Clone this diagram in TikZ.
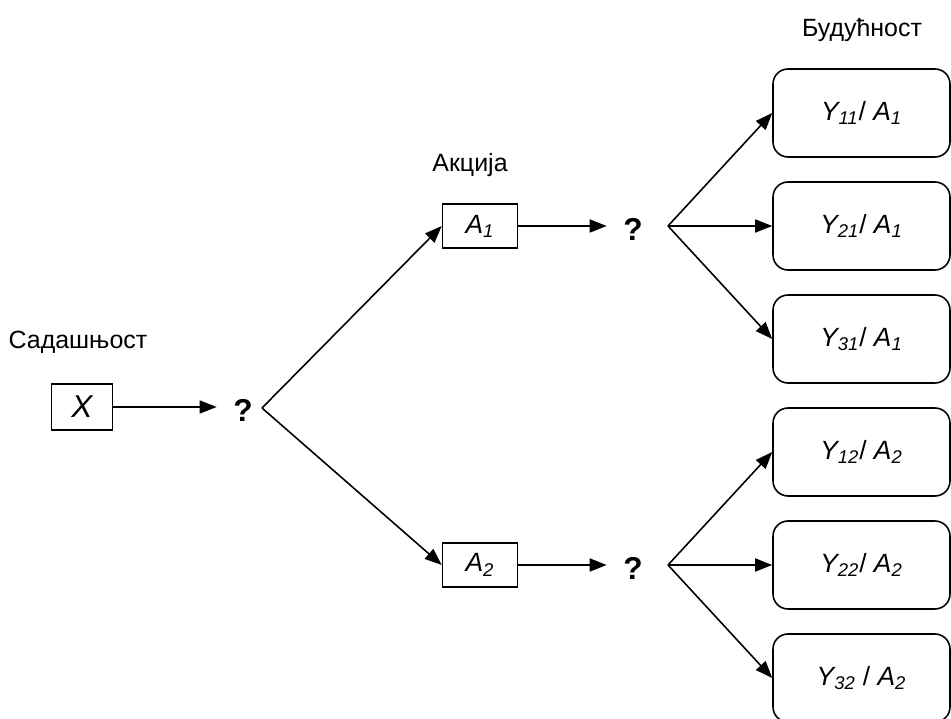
\documentclass[tikz,border=0pt]{standalone}
\usepackage{fontspec}
\setmainfont{Liberation Sans}
\usetikzlibrary{arrows.meta,positioning}

\begin{document}
\begin{tikzpicture}[x=0.02cm, y=-0.02cm, line width=0.9pt,
		>={Triangle[length=3.4mm,width=2.6mm]},
		box node/.style={rectangle,draw,minimum width=1.5cm,minimum height=0.88cm,font=\fontsize{15}{17}\selectfont\itshape},
		future node/.style={rectangle,draw,rounded corners=0.3cm,minimum width=3.54cm,minimum height=1.76cm,font=\fontsize{15}{17}\selectfont\itshape},
		qmark/.style={font=\fontsize{18}{20}\selectfont\bfseries},
		title/.style={font=\fontsize{14.2}{17}\selectfont}]
		
		\useasboundingbox (0,0) rectangle (951,719);
		
		% present
		\node[title] (now) at (78,342) {Садашњост};
		\node[box node,minimum width=1.22cm,minimum height=0.92cm,font=\fontsize{18}{20}\selectfont\itshape] (X) at (82,407) {X};
		\node[qmark] (q0) at (243,410) {?};
		\coordinate (v0) at (262,408);
		
		% actions
		\node[title] (act) at (470,165) {Акција};
		\node[box node] (A1) at (480,226) {A\textsubscript{1}};
		\node[box node] (A2) at (480,565) {A\textsubscript{2}};
		\node[qmark] (q1) at (633,229) {?};
		\node[qmark] (q2) at (633,568) {?};
		\coordinate (v1) at (668,226);
		\coordinate (v2) at (668,565);
		
		% future
		\node[title] (fut) at (862,30) {Будућност};
		\node[future node] (Y11) at (861.5,113) {Y\textsubscript{11}\upshape/ \itshape A\textsubscript{1}};
		\node[future node] (Y21) at (861.5,226) {Y\textsubscript{21}\upshape/ \itshape A\textsubscript{1}};
		\node[future node] (Y31) at (861.5,339) {Y\textsubscript{31}\upshape/ \itshape A\textsubscript{1}};
		\node[future node] (Y12) at (861.5,452) {Y\textsubscript{12}\upshape/ \itshape A\textsubscript{2}};
		\node[future node] (Y22) at (861.5,565) {Y\textsubscript{22}\upshape/ \itshape A\textsubscript{2}};
		\node[future node] (Y32) at (861.5,678) {Y\textsubscript{32} \upshape/ \itshape A\textsubscript{2}};
		
		\draw[->,shorten >=0.2cm] (X) -- (X -| q0.west);
		\draw[->,shorten >=0.2cm] (A1) -- (A1 -| q1.west);
		\draw[->,shorten >=0.2cm] (A2) -- (A2 -| q2.west);
		
		\path[->]
		(v0) edge (A1.west)
		(v0) edge (A2.west)
		(v1) edge (Y11.west)
		(v1) edge (Y21.west)
		(v1) edge (Y31.west)
		(v2) edge (Y12.west)
		(v2) edge (Y22.west)
		(v2) edge (Y32.west);
		
	\end{tikzpicture}
\end{document}
